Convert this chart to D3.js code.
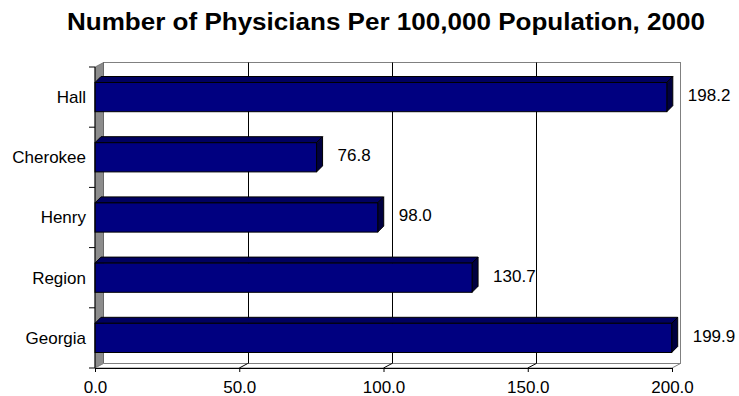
<!DOCTYPE html>
<html><head><meta charset="utf-8">
<script src="https://cdn.jsdelivr.net/npm/d3@7"></script>
<style>body{margin:0;background:#fff}svg{display:block}text{font-family:"Liberation Sans",Arial,sans-serif}</style>
</head><body>
<svg id="c" width="739" height="396"></svg>
<script>
const categories = ["Hall", "Cherokee", "Henry", "Region", "Georgia"];
const values = [198.2, 76.8, 98.0, 130.7, 199.9];
const tickValues = [0, 50, 100, 150, 200];
const title = "Number of Physicians Per 100,000 Population, 2000";

(function () {
const svg = d3.select("#c");
const pL = 95, pR = 672, pT = 67, pB = 368;
const wdx = 8.5, wdy = -4.5;   // wall depth
const bdx = 6, bdy = -6;       // bar depth

const x = d3.scaleLinear().domain([0, 200]).range([pL, pR]);
const y = d3.scaleBand().domain(categories).range([pT, pB]).padding(0);
const barH = y.bandwidth() * 0.485;

// title
svg.append("text").attr("x", 386).attr("y", 30).attr("text-anchor", "middle")
  .attr("font-size", 23).attr("font-weight", "bold").attr("fill", "#000")
  .attr("textLength", 638).attr("lengthAdjust", "spacingAndGlyphs").text(title);

// back wall
svg.append("rect").attr("x", pL + wdx).attr("y", pT + wdy)
  .attr("width", x(200) - pL).attr("height", pB - pT)
  .attr("fill", "#fff").attr("stroke", "#808080").attr("stroke-width", 1);

// side wall
svg.append("polygon")
  .attr("points", [[pL, pT], [pL + wdx, pT + wdy], [pL + wdx, pB + wdy], [pL, pB]].map(p => p.join(",")).join(" "))
  .attr("fill", "#8c8c8c").attr("stroke", "#555").attr("stroke-width", 0.6);

// floor
svg.append("polygon")
  .attr("points", [[pL, pB], [pL + wdx, pB + wdy], [x(200) + wdx, pB + wdy], [x(200), pB]].map(p => p.join(",")).join(" "))
  .attr("fill", "#fff").attr("stroke", "#808080").attr("stroke-width", 1);

// gridlines on back wall and floor
const grid = tickValues.filter(v => v > 0 && v < 200);
svg.append("g").selectAll("line").data(grid).join("line")
  .attr("x1", d => Math.round(x(d) + wdx) + 0.5).attr("x2", d => Math.round(x(d) + wdx) + 0.5)
  .attr("y1", pT + wdy).attr("y2", pB + wdy).attr("stroke", "#000").attr("stroke-width", 1);
svg.append("g").selectAll("line").data(grid).join("line")
  .attr("x1", d => x(d) + wdx).attr("x2", d => x(d))
  .attr("y1", pB + wdy).attr("y2", pB).attr("stroke", "#000").attr("stroke-width", 1);

// bars
const bars = svg.append("g").selectAll("g").data(categories).join("g");
bars.each(function (c, i) {
  const g = d3.select(this);
  const x0 = x(0), x1 = x(values[i]);
  const yc = y(c) + y.bandwidth() / 2;
  const y0 = yc - barH / 2, y1 = yc + barH / 2;
  g.append("polygon").attr("points", [[x0, y0], [x0 + bdx, y0 + bdy], [x1 + bdx, y0 + bdy], [x1, y0]].map(p => p.join(",")).join(" "))
    .attr("fill", "#000060").attr("stroke", "#000").attr("stroke-width", 1).attr("stroke-linejoin", "round");
  g.append("polygon").attr("points", [[x1, y0], [x1 + bdx, y0 + bdy], [x1 + bdx, y1 + bdy], [x1, y1]].map(p => p.join(",")).join(" "))
    .attr("fill", "#000040").attr("stroke", "#000").attr("stroke-width", 1).attr("stroke-linejoin", "round");
  g.append("rect").attr("x", x0).attr("y", y0).attr("width", x1 - x0).attr("height", barH)
    .attr("fill", "#000080").attr("stroke", "#000").attr("stroke-width", 1);
  g.append("text").attr("x", x1 + bdx + 15).attr("y", yc - 2).attr("dy", "0.35em")
    .attr("font-size", 17).attr("fill", "#000").text(d3.format(".1f")(values[i]));
});

// x axis (front)
const xa = svg.append("g").attr("transform", `translate(0,${pB})`)
  .call(d3.axisBottom(x).tickValues(tickValues).tickFormat(d3.format(".1f")).tickSize(4).tickSizeOuter(0));
xa.select(".domain").attr("stroke", "#000");
xa.selectAll("line").attr("stroke", "#000");
xa.selectAll("text").attr("font-size", 17).attr("fill", "#000").attr("y", 13).attr("dy", "0.71em")
  .style("font-family", '"Liberation Sans",Arial,sans-serif');

// y axis (front)
const ticksY = categories.map(c => y(c)).concat([pB]);
const ya = svg.append("g");
ya.append("line").attr("x1", pL).attr("x2", pL).attr("y1", pT).attr("y2", pB).attr("stroke", "#000");
ya.selectAll("line.t").data(ticksY).join("line").attr("class", "t")
  .attr("x1", pL - 6).attr("x2", pL).attr("y1", d => d).attr("y2", d => d).attr("stroke", "#000");
ya.selectAll("text").data(categories).join("text")
  .attr("x", 86).attr("y", d => y(d) + y.bandwidth() / 2).attr("dy", "0.35em")
  .attr("text-anchor", "end").attr("font-size", 17).attr("fill", "#000").text(d => d);
})();
</script>
</body></html>
